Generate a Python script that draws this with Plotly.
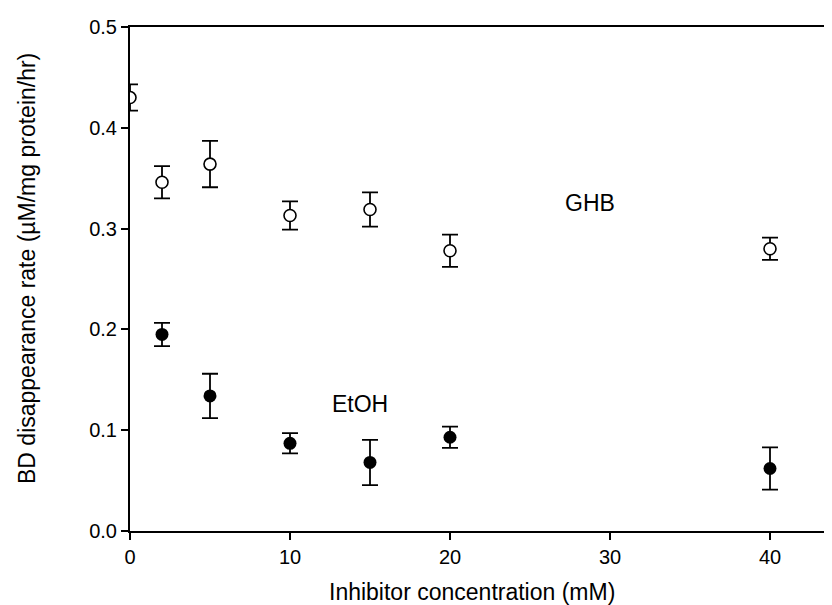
import plotly.graph_objects as go

conc = [0, 2, 5, 10, 15, 20, 40]
ghb_rate = [0.430, 0.346, 0.364, 0.313, 0.319, 0.278, 0.280]
ghb_err = [0.013, 0.016, 0.023, 0.014, 0.017, 0.016, 0.011]

etoh_conc = [2, 5, 10, 15, 20, 40]
etoh_rate = [0.195, 0.134, 0.087, 0.068, 0.093, 0.062]
etoh_err = [0.0115, 0.022, 0.010, 0.0225, 0.0105, 0.021]

x_ticks = [0, 10, 20, 30, 40]
y_ticks = [0.0, 0.1, 0.2, 0.3, 0.4, 0.5]

FONT = "Liberation Sans, Arial, sans-serif"

fig = go.Figure()
fig.add_trace(go.Scatter(
    x=conc, y=ghb_rate, mode="markers", name="GHB",
    marker=dict(symbol="circle", size=12, color="white",
                line=dict(color="black", width=1.6)),
    error_y=dict(type="data", array=ghb_err, visible=True,
                 color="black", thickness=1.8, width=8),
))
fig.add_trace(go.Scatter(
    x=etoh_conc, y=etoh_rate, mode="markers", name="EtOH",
    marker=dict(symbol="circle", size=13, color="black",
                line=dict(color="black", width=0)),
    error_y=dict(type="data", array=etoh_err, visible=True,
                 color="black", thickness=1.8, width=8),
))

fig.update_layout(
    width=832, height=605,
    margin=dict(l=122, r=0, t=19, b=82),
    paper_bgcolor="white", plot_bgcolor="white",
    showlegend=False,
    font=dict(family=FONT, size=20, color="black"),
    xaxis=dict(range=[0, 44.375], tickvals=x_ticks, ticktext=[str(v) for v in x_ticks],
               showgrid=False, zeroline=False, showline=True, linecolor="black",
               linewidth=2, mirror=True, ticks="outside", ticklen=7, tickwidth=1.5,
               tickcolor="black", tickfont=dict(size=20)),
    yaxis=dict(range=[0, 0.5], tickvals=y_ticks, ticktext=[f"{v:.1f}" for v in y_ticks],
               showgrid=False, zeroline=False, showline=True, linecolor="black",
               linewidth=2, ticks="outside", ticklen=7, tickwidth=1.5,
               tickcolor="black", tickfont=dict(size=20)),
    annotations=[
        dict(text="Inhibitor concentration (mM)", xref="paper", yref="paper",
             x=0.4817, y=-0.122, xanchor="center", yanchor="middle",
             showarrow=False, font=dict(size=23)),
        dict(text="BD disappearance rate (µM/mg protein/hr)", xref="paper", yref="paper",
             x=-0.1451, y=0.5218, xanchor="center", yanchor="middle", textangle=-90,
             showarrow=False, font=dict(size=23)),
        dict(text="GHB", x=28.75, y=0.325, xref="x", yref="y", showarrow=False,
             xanchor="center", yanchor="middle", font=dict(size=23)),
        dict(text="EtOH", x=14.4, y=0.126, xref="x", yref="y", showarrow=False,
             xanchor="center", yanchor="middle", font=dict(size=23)),
    ],
)

fig.write_html("out.html")
